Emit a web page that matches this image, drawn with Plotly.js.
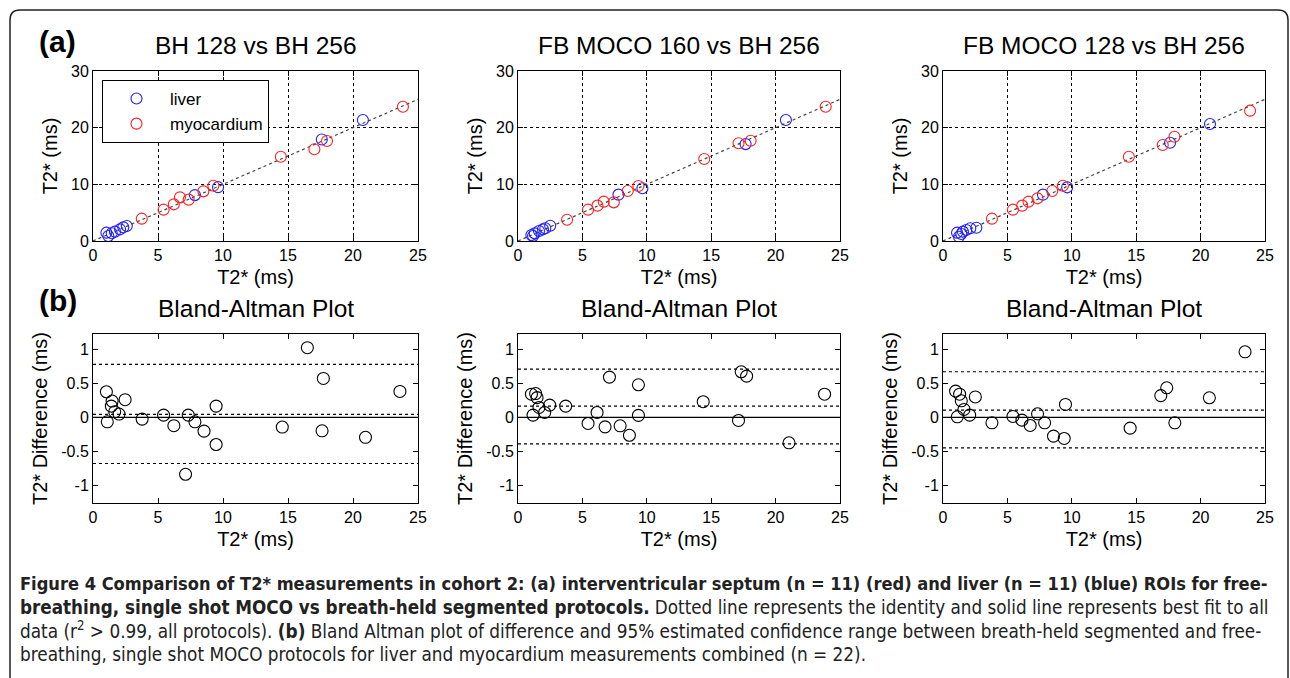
<!DOCTYPE html>
<html>
<head>
<meta charset="utf-8">
<script src="https://cdn.plot.ly/plotly-3.0.1.min.js"></script>
<style>html,body{margin:0;padding:0;background:#fff;}#chart{width:1290px;height:678px;}</style>
</head>
<body>
<div id="chart"></div>
<script>
// ---------- DATA ----------
const panelTitlesTop = ["BH 128 vs BH 256", "FB MOCO 160 vs BH 256", "FB MOCO 128 vs BH 256"];
const panelTitleBottom = "Bland-Altman Plot";
const seriesNames = ["liver", "myocardium"];

// Top scatter panels: x = BH 256 T2* (ms), y = compared protocol T2* (ms)
const p1LiverX = [1.03, 1.18, 1.44, 1.69, 2.08, 2.33, 2.6, 7.84, 9.62, 17.6, 20.76];
const p1LiverY = [1.47, 0.88, 1.36, 1.65, 2.06, 2.41, 2.65, 8.1, 9.5, 17.9, 21.35];
const p1MyoX = [3.75, 5.43, 6.22, 6.69, 7.36, 8.49, 9.26, 14.45, 17.03, 18.0, 23.84];
const p1MyoY = [3.94, 5.53, 6.47, 7.7, 7.3, 8.76, 9.76, 14.88, 16.18, 17.65, 23.7];

const p2LiverX = [1.04, 1.17, 1.3, 1.63, 1.94, 2.12, 2.5, 7.8, 9.66, 17.67, 20.8];
const p2LiverY = [1.06, 0.88, 1.35, 1.76, 2.06, 2.24, 2.7, 8.18, 9.3, 17.1, 21.35];
const p2MyoX = [3.81, 5.44, 6.17, 6.66, 7.44, 8.52, 9.35, 14.46, 17.12, 18.06, 23.89];
const p2MyoY = [3.76, 5.53, 6.24, 6.94, 6.82, 8.82, 9.7, 14.47, 17.24, 17.7, 23.7];

const p3LiverX = [1.09, 1.24, 1.42, 1.55, 1.81, 2.12, 2.59, 7.76, 9.64, 17.63, 20.73];
const p3LiverY = [1.47, 0.76, 1.24, 1.65, 1.94, 2.24, 2.35, 8.18, 9.47, 17.35, 20.65];
const p3MyoX = [3.8, 5.43, 6.15, 6.64, 7.34, 8.48, 9.31, 14.43, 17.06, 17.97, 23.84];
const p3MyoY = [3.94, 5.53, 6.24, 6.94, 7.53, 8.82, 9.76, 14.88, 16.94, 18.41, 23.0];

const identityX = [0, 25];
const identityY = [0, 25];

// Bland-Altman panels: x = mean T2* (ms), y = difference (ms)
const ba1X = [1.03, 1.1, 1.47, 1.41, 1.67, 2.0, 2.47, 3.78, 5.43, 6.22, 7.33, 7.84, 7.12, 8.54, 9.47, 9.47, 14.56, 16.49, 17.72, 17.62, 20.96, 23.61];
const ba1Y = [0.376, -0.063, 0.24, 0.166, 0.083, 0.05, 0.26, -0.024, 0.034, -0.12, 0.034, -0.063, -0.83, -0.2, 0.166, -0.395, -0.14, 1.02, 0.57, -0.195, -0.29, 0.38];
const ba1Lines = [0.776, 0.044, -0.673]; // upper limit, mean, lower limit

const ba2X = [1.04, 1.37, 1.48, 1.17, 1.63, 2.07, 2.46, 3.7, 5.44, 6.14, 6.76, 7.1, 7.93, 8.65, 9.35, 9.35, 14.38, 17.12, 17.33, 17.75, 21.04, 23.8];
const ba2Y = [0.34, 0.35, 0.29, 0.034, 0.146, 0.073, 0.18, 0.166, -0.088, 0.073, -0.137, 0.59, -0.122, -0.26, 0.478, 0.03, 0.23, -0.044, 0.668, 0.605, -0.37, 0.34];
const ba2Lines = [0.707, 0.166, -0.385];

const ba3X = [0.98, 1.29, 1.42, 1.63, 1.11, 2.07, 2.51, 3.8, 5.43, 6.13, 6.77, 7.34, 7.89, 8.58, 9.41, 9.51, 14.53, 16.91, 17.37, 18.0, 20.68, 23.45];
const ba3Y = [0.385, 0.34, 0.244, 0.117, 0.01, 0.034, 0.30, -0.078, 0.015, -0.039, -0.117, 0.054, -0.078, -0.273, -0.307, 0.19, -0.156, 0.32, 0.434, -0.078, 0.288, 0.96];
const ba3Lines = [0.668, 0.107, -0.444];

const baRangeX = [0, 25];

const topXTicks = [0, 5, 10, 15, 20, 25];
const topYTicks = [0, 10, 20, 30];
const baYTicks = [-1, -0.5, 0, 0.5, 1];
const baYTickText = ["-1", "-0.5", "0", "0.5", "1"];

const captionLines = [
  "<b>Figure 4 Comparison of T2* measurements in cohort 2: (a) interventricular septum (n = 11) (red) and liver (n = 11) (blue) ROIs for free-</b>",
  "<b>breathing, single shot MOCO vs breath-held segmented protocols.</b> Dotted line represents the identity and solid line represents best fit to all",
  "data (r<sup>2</sup> > 0.99, all protocols). <b>(b)</b> Bland Altman plot of difference and 95% estimated confidence range between breath-held segmented and free-",
  "breathing, single shot MOCO protocols for liver and myocardium measurements combined (n = 22)."
];

// ---------- LAYOUT HELPERS ----------
const W = 1290, H = 678;
const fx = p => p / W;
const fy = p => 1 - p / H;
const colsPx = [[93, 418], [518, 840], [943, 1265]];
const topPx = [71, 241];
const botPx = [334, 503];
const FONT = "Liberation Sans, Arial, sans-serif";
const CAPFONT = "DejaVu Sans Condensed, Liberation Sans Narrow, Arial Narrow, sans-serif";
const capSizes = [18.1, 18.7, 18.8, 18.8];
const BLUE = "#1f1fff", RED = "#ff2020";

const traces = [];
const topData = [
  [p1LiverX, p1LiverY, p1MyoX, p1MyoY],
  [p2LiverX, p2LiverY, p2MyoX, p2MyoY],
  [p3LiverX, p3LiverY, p3MyoX, p3MyoY]
];
const baData = [[ba1X, ba1Y, ba1Lines], [ba2X, ba2Y, ba2Lines], [ba3X, ba3Y, ba3Lines]];

topData.forEach((d, i) => {
  const xa = "x" + (i === 0 ? "" : (i + 1));
  const ya = "y" + (i === 0 ? "" : (i + 1));
  traces.push({x: identityX, y: identityY, xaxis: xa, yaxis: ya, mode: "lines",
    line: {color: "#444", width: 1.2, dash: "dot"}, showlegend: false, hoverinfo: "skip"});
  traces.push({x: d[0], y: d[1], xaxis: xa, yaxis: ya, mode: "markers", name: seriesNames[0],
    marker: {symbol: "circle-open", size: 11, color: BLUE, line: {width: 1.1, color: BLUE}},
    showlegend: i === 0});
  traces.push({x: d[2], y: d[3], xaxis: xa, yaxis: ya, mode: "markers", name: seriesNames[1],
    marker: {symbol: "circle-open", size: 11, color: RED, line: {width: 1.1, color: RED}},
    showlegend: i === 0});
});

baData.forEach((d, i) => {
  const n = i + 4;
  const xa = "x" + n, ya = "y" + n;
  traces.push({x: baRangeX, y: [0, 0], xaxis: xa, yaxis: ya, mode: "lines",
    line: {color: "#000", width: 1.2}, showlegend: false, hoverinfo: "skip"});
  d[2].forEach(v => {
    traces.push({x: baRangeX, y: [v, v], xaxis: xa, yaxis: ya, mode: "lines",
      line: {color: "#000", width: 1.2, dash: "dot"}, showlegend: false, hoverinfo: "skip"});
  });
  traces.push({x: d[0], y: d[1], xaxis: xa, yaxis: ya, mode: "markers",
    marker: {symbol: "circle-open", size: 12, color: "#000", line: {width: 1.1, color: "#000"}},
    showlegend: false});
});

const layout = {
  width: W, height: H,
  margin: {l: 0, r: 0, t: 0, b: 0},
  paper_bgcolor: "#fff", plot_bgcolor: "#fff",
  font: {family: FONT, color: "#000", size: 16},
  showlegend: true,
  legend: {x: fx(102), y: fy(80), xanchor: "left", yanchor: "top",
    bordercolor: "#000", borderwidth: 1, bgcolor: "#fff",
    font: {family: FONT, size: 17, color: "#000"}, itemwidth: 57, tracegroupgap: 0},
  annotations: [], shapes: []
};

function axisCommon() {
  return {showline: true, linecolor: "#000", linewidth: 1, mirror: "ticks",
    ticks: "inside", ticklen: 5, tickcolor: "#000", tickwidth: 1,
    zeroline: false, tickfont: {family: FONT, size: 16, color: "#000"}, fixedrange: true};
}

for (let i = 0; i < 3; i++) {
  const k = i === 0 ? "" : String(i + 1);
  const xa = Object.assign(axisCommon(), {
    domain: [fx(colsPx[i][0]), fx(colsPx[i][1])], range: [0, 25],
    tickvals: topXTicks, showgrid: true, gridcolor: "#000", griddash: "dot", gridwidth: 1,
    anchor: "y" + k, title: {text: "T2* (ms)", font: {family: FONT, size: 20}, standoff: 6}});
  const ya = Object.assign(axisCommon(), {
    domain: [fy(topPx[1]), fy(topPx[0])], range: [0, 30],
    tickvals: topYTicks, showgrid: true, gridcolor: "#000", griddash: "dot", gridwidth: 1,
    anchor: "x" + k, title: {text: "T2* (ms)", font: {family: FONT, size: 20}, standoff: 8}});
  layout["xaxis" + k] = xa;
  layout["yaxis" + k] = ya;

  const n = String(i + 4);
  layout["xaxis" + n] = Object.assign(axisCommon(), {
    domain: [fx(colsPx[i][0]), fx(colsPx[i][1])], range: [0, 25],
    tickvals: topXTicks, showgrid: false, anchor: "y" + n,
    title: {text: "T2* (ms)", font: {family: FONT, size: 20}, standoff: 6}});
  layout["yaxis" + n] = Object.assign(axisCommon(), {
    domain: [fy(botPx[1]), fy(botPx[0])], range: [-1.25, 1.22],
    tickvals: baYTicks, ticktext: baYTickText, showgrid: false, anchor: "x" + n,
    title: {text: "T2* Difference (ms)", font: {family: FONT, size: 20}, standoff: 8}});

  const cx = fx((colsPx[i][0] + colsPx[i][1]) / 2);
  layout.annotations.push({text: panelTitlesTop[i], x: cx, y: fy(46), xref: "paper", yref: "paper",
    xanchor: "center", yanchor: "middle", showarrow: false, font: {family: FONT, size: 24.5, color: "#000"}});
  layout.annotations.push({text: panelTitleBottom, x: cx, y: fy(309), xref: "paper", yref: "paper",
    xanchor: "center", yanchor: "middle", showarrow: false, font: {family: FONT, size: 24.5, color: "#000"}});
}

layout.annotations.push({text: "<b>(a)</b>", x: fx(37), y: fy(42), xref: "paper", yref: "paper",
  xanchor: "left", yanchor: "middle", showarrow: false, font: {family: FONT, size: 30, color: "#000"}});
layout.annotations.push({text: "<b>(b)</b>", x: fx(37), y: fy(300), xref: "paper", yref: "paper",
  xanchor: "left", yanchor: "middle", showarrow: false, font: {family: FONT, size: 30, color: "#000"}});

const capY = [583, 607, 630, 654];
captionLines.forEach((t, i) => {
  layout.annotations.push({text: t, x: fx(18), y: fy(capY[i]), xref: "paper", yref: "paper",
    xanchor: "left", yanchor: "middle", showarrow: false, align: "left",
    font: {family: CAPFONT, size: capSizes[i], color: "#222"}});
});

// rounded frame around figure + caption
const r = 10, L = 10, R = 1288, T = 10;
const path = `M ${fx(L)},${fy(H + 5)} L ${fx(L)},${fy(T + r)} Q ${fx(L)},${fy(T)} ${fx(L + r)},${fy(T)} ` +
  `L ${fx(R - r)},${fy(T)} Q ${fx(R)},${fy(T)} ${fx(R)},${fy(T + r)} L ${fx(R)},${fy(H + 5)}`;
layout.shapes.push({type: "path", xref: "paper", yref: "paper", path: path,
  line: {color: "#222", width: 1.5}, layer: "above"});

Plotly.newPlot("chart", traces, layout, {displayModeBar: false, staticPlot: true});
</script>
</body>
</html>
